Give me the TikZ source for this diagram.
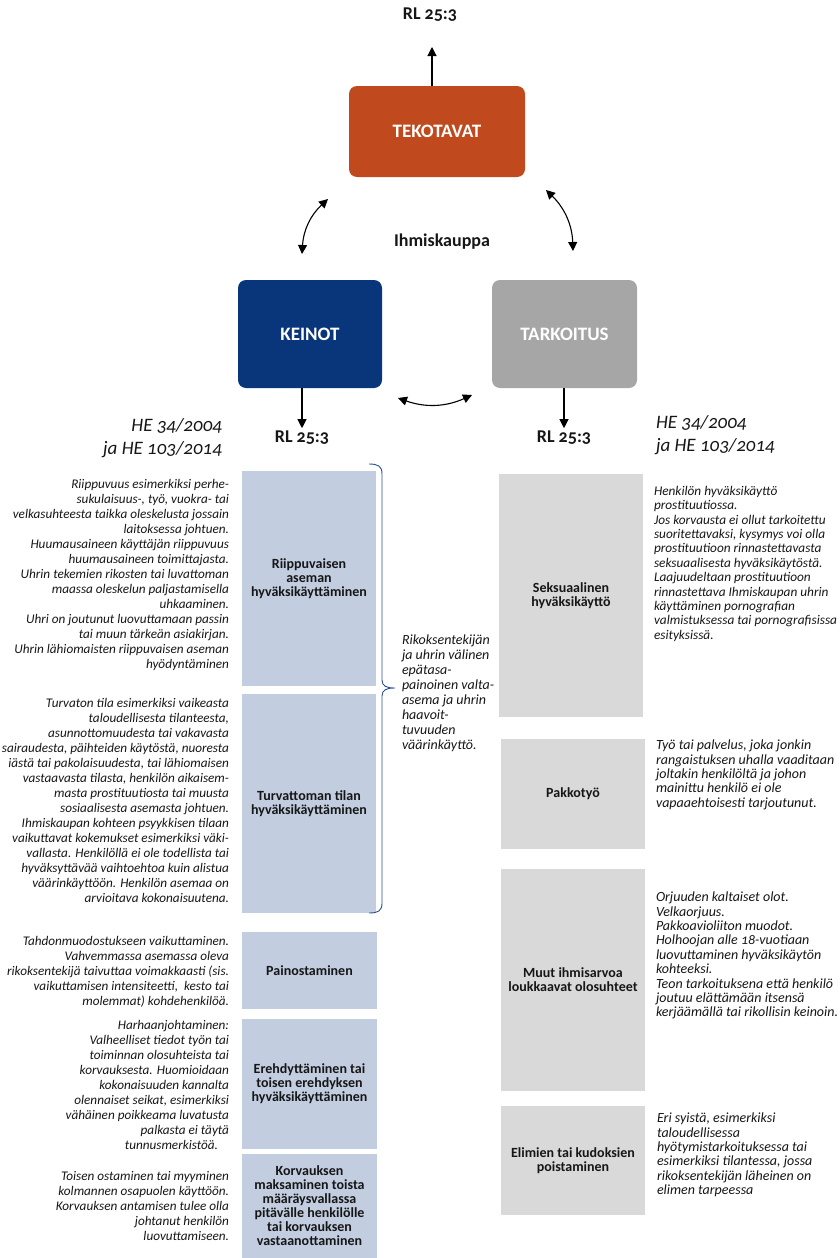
\documentclass[tikz,border=0pt]{standalone}
\usepackage{fontspec}
\setmainfont{Carlito}[Numbers=OldStyle]
\usetikzlibrary{arrows.meta,calc}

\definecolor{rust}{RGB}{192,74,30}
\definecolor{navy}{RGB}{9,54,122}
\definecolor{midgray}{RGB}{166,166,166}
\definecolor{paleblue}{RGB}{194,205,224}
\definecolor{palegray}{RGB}{217,217,217}
\definecolor{bracecol}{RGB}{45,80,145}
\definecolor{ink}{RGB}{22,22,22}

\tikzset{
  every node/.style={inner sep=0pt, outer sep=0pt, text=ink},
  headbox/.style={rounded corners=8pt, text=white,
    font=\bfseries\fontsize{19}{21}\selectfont},
  rllabel/.style={font=\bfseries\fontsize{18}{20}\selectfont},
  titlelabel/.style={font=\bfseries\fontsize{18}{20}\selectfont},
  refnote/.style={font=\itshape\fontsize{19}{23}\selectfont},
  meansbox/.style={fill=paleblue, align=center,
    font=\bfseries\fontsize{14}{14}\selectfont},
  purposebox/.style={fill=palegray, align=center,
    font=\bfseries\fontsize{14}{14}\selectfont},
  leftnote/.style={anchor=north east, align=right,
    font=\itshape\fontsize{13.2}{15}\selectfont},
  rightnote/.style={anchor=north west, align=left,
    font=\itshape\fontsize{14}{14.4}\selectfont},
  bracenote/.style={anchor=north west, align=left,
    font=\itshape\fontsize{14}{15}\selectfont},
  arr/.style={line width=1.1pt, -{Triangle[length=9pt,width=9pt]}},
  dblarr/.style={line width=1.1pt,
    {Triangle[length=9pt,width=9pt]}-{Triangle[length=9pt,width=9pt]}},
}

\begin{document}
\begin{tikzpicture}[x=1pt,y=-1pt]
\useasboundingbox (0,0) rectangle (840,1258);

% --- triangle of the three elements ---
\node[rllabel] (rltop) at (430,15) {RL 25:3};
\node[headbox, fill=rust, minimum width=176, minimum height=91] (tek) at (437,131.5) {TEKOTAVAT};
\node[headbox, fill=navy, minimum width=144, minimum height=108] (keinot) at (310,334) {KEINOT};
\node[headbox, fill=midgray, minimum width=145, minimum height=108] (tark) at (564.5,334) {TARKOITUS};
\node[titlelabel] (ihmis) at (442,242) {Ihmiskauppa};

\node[rllabel] (rlk) at (302,438) {RL 25:3};
\node[rllabel] (rlt) at (564,438) {RL 25:3};

\coordinate (toptip) at (432,47);
\draw[arr] (tek.north -| toptip) -- (toptip);
\draw[arr] (keinot.south -| rlk) -- ($(rlk.north)+(0,-3)$);
\draw[arr] (tark.south -| rlt) -- ($(rlt.north)+(0,-3)$);

% curved two-way arrows between the elements
\coordinate (kt1) at (302,254);
\coordinate (kt2) at (328,199);
\coordinate (tt1) at (546,190);
\coordinate (tt2) at (573,251);
\coordinate (kk1) at (398,398);
\coordinate (kk2) at (472,395);
\draw[dblarr] (kt1) to[bend left=22] (kt2);
\draw[dblarr] (tt1) to[bend left=22] (tt2);
\draw[dblarr] (kk1) to[bend right=22] (kk2);

% --- source references ---
\node[refnote, anchor=east, align=right] (heleft) at (222,438) {HE 34/2004\\ja HE 103/2014};
\node[refnote, anchor=west, align=left] (heright) at (656,435) {HE 34/2004\\ja HE 103/2014};

% --- means (left column) ---
\node[meansbox, minimum width=134, minimum height=215] (m1) at (309,578.5)
  {Riippuvaisen\\aseman\\hyväksikäyttäminen};
\node[meansbox, minimum width=134, minimum height=219] (m2) at (309,803.5)
  {Turvattoman tilan\\hyväksikäyttäminen};
\node[meansbox, minimum width=135, minimum height=77] (m3) at (309.5,970.5)
  {Painostaminen};
\node[meansbox, minimum width=135, minimum height=130] (m4) at (309.5,1084)
  {Erehdyttäminen tai\\toisen erehdyksen\\hyväksikäyttäminen};
\node[meansbox, minimum width=135, minimum height=104] (m5) at (309.5,1206)
  {Korvauksen\\maksaminen toista\\määräysvallassa\\pitävälle henkilölle\\tai korvauksen\\vastaanottaminen};

\node[leftnote] (n1) at (229,479) {Riippuvuus esimerkiksi perhe-\\
sukulaisuus-, työ, vuokra- tai\\
velkasuhteesta taikka oleskelusta jossain\\
laitoksessa johtuen.\\
Huumausaineen käyttäjän riippuvuus\\
huumausaineen toimittajasta.\\
Uhrin tekemien rikosten tai luvattoman\\
maassa oleskelun paljastamisella\\
uhkaaminen.\\
Uhri on joutunut luovuttamaan passin\\
tai muun tärkeän asiakirjan.\\
Uhrin lähiomaisten riippuvaisen aseman\\
hyödyntäminen};

\node[leftnote] (n2) at (229,698) {Turvaton tila esimerkiksi vaikeasta\\
taloudellisesta tilanteesta,\\
asunnottomuudesta tai vakavasta\\
sairaudesta, päihteiden käytöstä, nuoresta\\
iästä tai pakolaisuudesta, tai lähiomaisen\\
vastaavasta tilasta, henkilön aikaisem-\\
masta prostituutiosta tai muusta\\
sosiaalisesta asemasta johtuen.\\
Ihmiskaupan kohteen psyykkisen tilaan\\
vaikuttavat kokemukset esimerkiksi väki-\\
vallasta. Henkilöllä ei ole todellista tai\\
hyväksyttävää vaihtoehtoa kuin alistua\\
väärinkäyttöön. Henkilön asemaa on\\
arvioitava kokonaisuutena.};

\node[leftnote] (n3) at (229,936) {Tahdonmuodostukseen vaikuttaminen.\\
Vahvemmassa asemassa oleva\\
rikoksentekijä taivuttaa voimakkaasti (sis.\\
vaikuttamisen intensiteetti,\ \ kesto tai\\
molemmat) kohdehenkilöä.};

\node[leftnote] (n4) at (229,1020) {Harhaanjohtaminen:\\
Valheelliset tiedot työn tai\\
toiminnan olosuhteista tai\\
korvauksesta. Huomioidaan\\
kokonaisuuden kannalta\hspace*{5pt}\\
olennaiset seikat, esimerkiksi\\
vähäinen poikkeama luvatusta\hspace*{5pt}\\
palkasta ei täytä\hspace*{18pt}\\
tunnusmerkistöä.\hspace*{11pt}};

\node[leftnote] (n5) at (229,1171) {Toisen ostaminen tai myyminen\\
kolmannen osapuolen käyttöön.\\
Korvauksen antamisen tulee olla\\
johtanut henkilön\\
luovuttamiseen.};

% brace joining the first two means
\draw[bracecol, line width=0.9pt]
  (369,464) .. controls (378,464) and (382,466) .. (382,474)
  -- (382,680) .. controls (382,686) and (386,688) .. (395,688)
  .. controls (386,688) and (382,690) .. (382,696)
  -- (382,903) .. controls (382,911) and (378,913) .. (369,913);
\node[bracenote] (bn) at (402,635) {Rikoksentekijän\\
ja uhrin välinen\\
epätasa-\\
painoinen valta-\\
asema ja uhrin\\
haavoit-\\
tuvuuden\\
väärinkäyttö.};

% --- purposes (right column) ---
\node[purposebox, minimum width=144, minimum height=243] (p1) at (571,595.5)
  {Seksuaalinen\\hyväksikäyttö};
\node[purposebox, minimum width=144, minimum height=110] (p2) at (573,794)
  {Pakkotyö};
\node[purposebox, minimum width=144, minimum height=222] (p3) at (573,980)
  {Muut ihmisarvoa\\loukkaavat olosuhteet};
\node[purposebox, minimum width=144, minimum height=109] (p4) at (573,1160.5)
  {Elimien tai kudoksien\\poistaminen};

\node[rightnote, font=\itshape\fontsize{13.3}{14.4}\selectfont] (q1) at (654,486) {Henkilön hyväksikäyttö\\
prostituutiossa.\\
Jos korvausta ei ollut tarkoitettu\\
suoritettavaksi, kysymys voi olla\\
prostituutioon rinnastettavasta\\
seksuaalisesta hyväksikäytöstä.\\
Laajuudeltaan prostituutioon\\
rinnastettava Ihmiskaupan uhrin\\
käyttäminen pornografian\\
valmistuksessa tai pornografisissa\\
esityksissä.};

\node[rightnote] (q2) at (656,740) {Työ tai palvelus, joka jonkin\\
rangaistuksen uhalla vaaditaan\\
joltakin henkilöltä ja johon\\
mainittu henkilö ei ole\\
vapaaehtoisesti tarjoutunut.};

\node[rightnote] (q3) at (656,892) {Orjuuden kaltaiset olot.\\
Velkaorjuus.\\
Pakkoavioliiton muodot.\\
Holhoojan alle 18-vuotiaan\\
luovuttaminen hyväksikäytön\\
kohteeksi.\\
Teon tarkoituksena että henkilö\\
joutuu elättämään itsensä\\
kerjäämällä tai rikollisin keinoin.};

\node[rightnote] (q4) at (657,1113) {Eri syistä, esimerkiksi\\
taloudellisessa\\
hyötymistarkoituksessa tai\\
esimerkiksi tilantessa, jossa\\
rikoksentekijän läheinen on\\
elimen tarpeessa};
\end{tikzpicture}
\end{document}
